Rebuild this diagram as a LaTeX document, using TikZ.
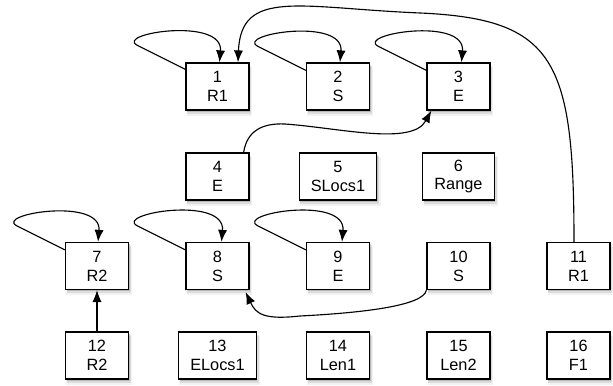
\documentclass[tikz,border=0pt]{standalone}
\usepackage{fontspec}
\setmainfont{Liberation Sans}
\usetikzlibrary{arrows.meta, shadows}
\tikzset{
    cellbox/.style={
        draw, line width=0.9pt, fill=white, align=center,
        minimum width=1.575cm, minimum height=1.175cm,
        inner xsep=0.29cm, inner ysep=0.1cm,
        font=\fontsize{11.6}{13.5}\selectfont,
        drop shadow={shadow xshift=0.8pt, shadow yshift=-1.4pt, fill=black, opacity=0.16},
        drop shadow={shadow xshift=1.2pt, shadow yshift=-2.4pt, shadow scale=1.02, fill=black, opacity=0.09},
        drop shadow={shadow xshift=1.5pt, shadow yshift=-3.4pt, shadow scale=1.04, fill=black, opacity=0.05}
    },
    endarrow/.style={
        line width=0.8pt,
        -{Latex[length=8.5pt, width=6.5pt]}
    }
}

\begin{document}
\begin{tikzpicture}[x=0.025cm, y=0.025cm]
    \useasboundingbox (0,0) rectangle (613,386);

    % Première ligne
    \node[cellbox] (n1) at (217.5,299.5) {1\\R1};
    \node[cellbox] (n2) at (338,299.5) {2\\S};
    \node[cellbox] (n3) at (458.5,299.5) {3\\E};

    % Deuxième ligne
    \node[cellbox] (n4) at (217.5,209.5) {4\\E};
    \node[cellbox] (n5) at (338,209.5) {5\\SLocs1};
    \node[cellbox] (n6) at (458.5,209.5) {6\\Range};

    % Troisième ligne
    \node[cellbox] (n7) at (97,120) {7\\R2};
    \node[cellbox] (n8) at (217.5,120) {8\\S};
    \node[cellbox] (n9) at (338,120) {9\\E};
    \node[cellbox] (n10) at (458.5,120) {10\\S};
    \node[cellbox] (n11) at (578.5,120) {11\\R1};

    % Quatrième ligne
    \node[cellbox] (n12) at (97,30.5) {12\\R2};
    \node[cellbox] (n13) at (217.5,30.5) {13\\ELocs1};
    \node[cellbox] (n14) at (338,30.5) {14\\Len1};
    \node[cellbox] (n15) at (458.5,30.5) {15\\Len2};
    \node[cellbox] (n16) at (578.5,30.5) {16\\F1};

    % Boucles
    \draw[endarrow]
    ([shift={(0,-7)}]n1.north west) -- ++(-48,24)
    to [out=153, in=85, out looseness=0.8, in looseness=1.4]
    ([shift={(2,0)}]n1.north);

    \draw[endarrow]
    ([shift={(0,-8)}]n2.north west) -- ++(-48,24)
    to [out=153, in=85, out looseness=0.8, in looseness=1.4]
    ([shift={(2,0)}]n2.north);

    \draw[endarrow]
    ([shift={(0,-8)}]n3.north west) -- ++(-48,24)
    to [out=153, in=85, out looseness=0.8, in looseness=1.4]
    ([shift={(3,0)}]n3.north);

    \draw[endarrow]
    ([shift={(0,-8)}]n7.north west) -- ++(-48,24)
    to [out=153, in=85, out looseness=0.8, in looseness=1.4]
    ([shift={(1,0)}]n7.north);

    \draw[endarrow]
    ([shift={(0,-8)}]n8.north west) -- ++(-48,24)
    to [out=153, in=85, out looseness=0.8, in looseness=1.4]
    ([shift={(4,0)}]n8.north);

    \draw[endarrow]
    ([shift={(0,-8)}]n9.north west) -- ++(-48,24)
    to [out=153, in=85, out looseness=0.8, in looseness=1.4]
    ([shift={(4,0)}]n9.north);

    % Grand arc de 11 vers 1
    \draw[endarrow]
    ([shift={(-4.5,0)}]n11.north)
    .. controls (574,326) and (555,367) .. (420,373)
    .. controls (300,378) and (241,398) ..
    ([shift={(20.5,0)}]n1.north);

    % De 4 vers 3
    \draw[endarrow]
    ([shift={(-6,0)}]n4.north east)
    .. controls (247,255) and (262,263) .. (285,262)
    .. controls (340,258) and (412,240) ..
    ([shift={(5,0)}]n3.south west);

    % De 10 vers 8
    \draw[endarrow]
    (n10.south west)
    .. controls (424,80) and (360,73) .. (300,70)
    .. controls (264,66) and (256,72) ..
    ([shift={(-4,-2)}]n8.south east);

    % De 12 vers 7
    \draw[endarrow] (n12) -- (n7);

\end{tikzpicture}
\end{document}
